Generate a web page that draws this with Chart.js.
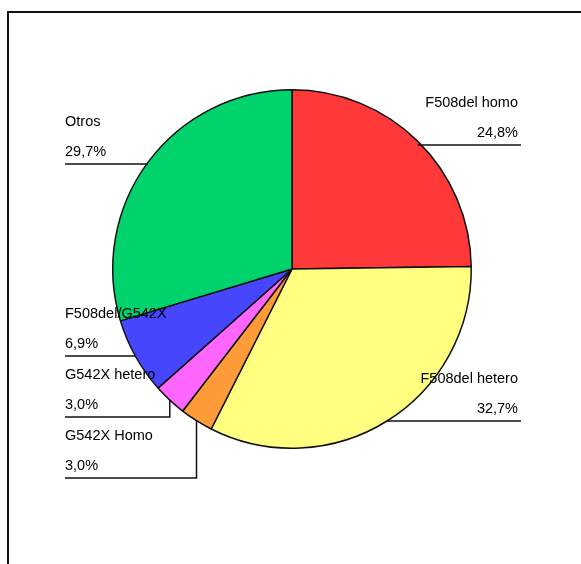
<!DOCTYPE html>
<html>
<head>
<meta charset="utf-8">
<script src="https://cdn.jsdelivr.net/npm/chart.js@4/dist/chart.umd.min.js"></script>
<style>
    html, body { margin: 0; padding: 0; background: #fff; overflow: hidden; }
    #wrap { width: 581px; height: 564px; }
</style>
</head>
<body>
<div id="wrap"><canvas id="myChart" width="581" height="564"></canvas></div>
<script>
var labels = ['F508del homo', 'F508del hetero', 'G542X Homo', 'G542X hetero', 'F508del/G542X', 'Otros'];
var values = [24.8, 32.7, 3.0, 3.0, 6.9, 29.7];
var colors = ['#ff3939', '#ffff80', '#ff9b38', '#ff66ff', '#4646ff', '#00d36b'];

// where each label sits: left/right column and the y of its underline
var labelSpots = [
    { side: 'right', y: 145 },
    { side: 'right', y: 421 },
    { side: 'left', y: 478 },
    { side: 'left', y: 417 },
    { side: 'left', y: 356 },
    { side: 'left', y: 164 }
];

var frame = {
    id: 'frame',
    afterDraw: function (chart) {
        var ctx = chart.ctx;
        ctx.save();
        ctx.fillStyle = '#111';
        ctx.fillRect(7, 11, 574, 2);
        ctx.fillRect(7, 11, 2, 553);
        ctx.restore();
    }
};

var sliceLabels = {
    id: 'sliceLabels',
    afterDatasetsDraw: function (chart) {
        var ctx = chart.ctx;
        var meta = chart.getDatasetMeta(0);
        ctx.save();
        ctx.font = '14.5px "Liberation Sans", Arial, sans-serif';
        ctx.fillStyle = '#000';
        ctx.strokeStyle = '#111';
        ctx.lineWidth = 1.5;
        meta.data.forEach(function (arc, i) {
            var spot = labelSpots[i];
            var mid = (arc.startAngle + arc.endAngle) / 2;
            var ax = arc.x + Math.cos(mid) * arc.outerRadius;
            var ay = arc.y + Math.sin(mid) * arc.outerRadius;
            var edge = spot.side === 'left' ? 65 : 521;

            ctx.beginPath();
            if (Math.abs(ay - spot.y) > 6) {
                ctx.moveTo(ax, ay);
                ctx.lineTo(ax, spot.y);
            } else {
                ctx.moveTo(ax, spot.y);
            }
            ctx.lineTo(edge, spot.y);
            ctx.stroke();

            var pct = values[i].toFixed(1).replace('.', ',') + '%';
            ctx.textAlign = spot.side === 'left' ? 'left' : 'right';
            ctx.textBaseline = 'middle';
            var tx = spot.side === 'left' ? 65 : 518;
            ctx.fillText(labels[i], tx, spot.y - 42);
            ctx.fillText(pct, tx, spot.y - 12);
        });
        ctx.restore();
    }
};

var ctx = document.getElementById('myChart').getContext('2d');
var myChart = new Chart(ctx, {
    type: 'pie',
    data: {
        labels: labels,
        datasets: [{
            data: values,
            backgroundColor: colors,
            borderColor: '#111',
            borderWidth: 1.5,
            hoverOffset: 0
        }]
    },
    options: {
        responsive: false,
        animation: false,
        layout: {
            padding: { left: 112, right: 109, top: 89, bottom: 115 }
        },
        plugins: {
            legend: { display: false },
            tooltip: { enabled: false }
        }
    },
    plugins: [sliceLabels, frame]
});
</script>
</body>
</html>
